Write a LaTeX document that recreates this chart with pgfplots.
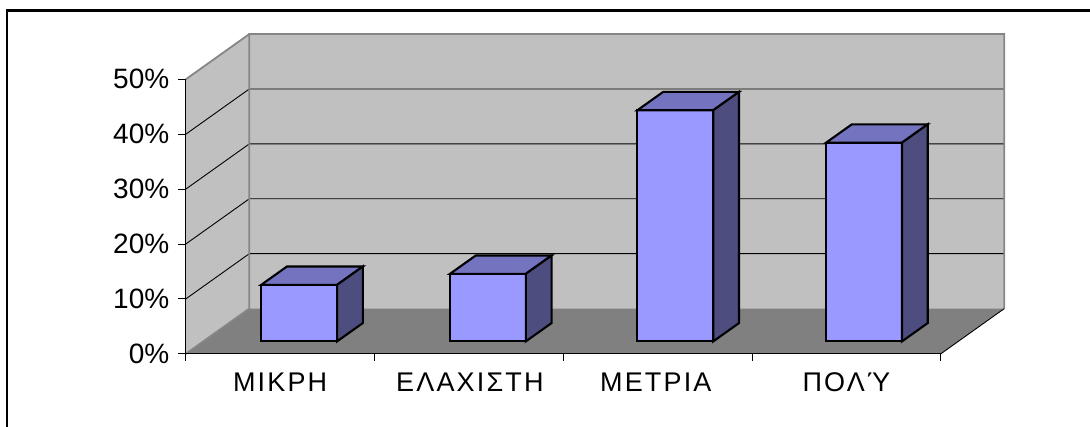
\documentclass[border=0pt]{standalone}
\usepackage{pgfplots}
\pgfplotsset{compat=1.18}
\usepackage{fontspec}
\setmainfont{Liberation Sans}
\newfontfamily\catfont[LetterSpace=8]{Liberation Sans}
\definecolor{wall}{RGB}{192,192,192}
\definecolor{floorc}{RGB}{128,128,128}
\definecolor{edgec}{RGB}{134,134,134}
\definecolor{front}{RGB}{153,153,255}
\definecolor{topc}{RGB}{115,115,191}
\definecolor{sidec}{RGB}{77,77,128}
\pgfplotsset{
  bar3/.style={draw=black,line width=2.1pt,line join=miter},
  thinl/.style={black,line width=0.9pt},
}
\newcommand{\onebar}[3]{%
 \addplot3[bar3,fill=front] coordinates {(#1,0.275,0) (#2,0.275,0) (#2,0.275,#3) (#1,0.275,#3)} -- cycle;
 \addplot3[bar3,fill=topc] coordinates {(#1,0.275,#3) (#2,0.275,#3) (#2,0.68,#3) (#1,0.68,#3)} -- cycle;
 \addplot3[bar3,fill=sidec] coordinates {(#2,0.275,0) (#2,0.68,0) (#2,0.68,#3) (#2,0.275,#3)} -- cycle;
}
\begin{document}
\begin{tikzpicture}[x=1pt,y=1pt]
\useasboundingbox (0,0) rectangle (1090,-427);
\draw[black,line width=2.4pt] (7,-427) -- (7,-10.5) -- (1090,-10.5);
\begin{axis}[
  at={(185.8pt,-353.8pt)}, anchor=origin,
  x={(188.75pt,0pt)}, y={(63.5pt,45.2pt)}, z={(0pt,5.49pt)},
  xmin=0,xmax=4,ymin=0,ymax=1,zmin=0,zmax=50,
  axis lines=left,
  axis line style={draw=none},
  ytick=\empty,
  xtick={0.5,1.505,2.49,3.5},
  xticklabels={ΜΙΚΡΗ,ΕΛΑΧΙΣΤΗ,ΜΕΤΡΙΑ,ΠΟΛΎ},
  x tick label style={font=\catfont\fontsize{27}{27}\selectfont,anchor=center,yshift=-28pt},
  ztick={0,10,20,30,40,50},
  zticklabel={\pgfmathprintnumber{\tick}\%},
  /pgf/number format/assume math mode=true,
  tick style={draw=none},
  major tick length=0pt,
  z tick label style={font=\fontsize{28}{28}\selectfont,anchor=east,xshift=-13pt},
  clip=false,
]
% walls and floor
\addplot3[fill=wall,draw=none] coordinates {(0,0,0) (0,1,0) (0,1,50) (0,0,50)} -- cycle;
\addplot3[fill=wall,draw=none] coordinates {(0,1,0) (4,1,0) (4,1,50) (0,1,50)} -- cycle;
\addplot3[fill=floorc,draw=none] coordinates {(0,0,0) (4,0,0) (4,1,0) (0,1,0)} -- cycle;
% gridlines
\addplot3[thinl] coordinates {(0,0,10) (0,1,10) (4,1,10)};
\addplot3[thinl] coordinates {(0,0,20) (0,1,20) (4,1,20)};
\addplot3[thinl] coordinates {(0,0,30) (0,1,30) (4,1,30)};
\addplot3[thinl] coordinates {(0,0,40) (0,1,40) (4,1,40)};
% edges
\addplot3[edgec,line width=1.8pt] coordinates {(0,0,0) (0,1,0) (0,1,50) (4,1,50) (4,1,0)};
\addplot3[edgec,line width=1.8pt] coordinates {(0,0,50) (0,1,50)};
\addplot3[thinl] coordinates {(4,0,0) (4,1,0)};
% front axis lines and ticks
\addplot3[thinl] coordinates {(0,0,50) (0,0,0) (4,0,0)};
\addplot3[thinl] coordinates {(0,0,0) (0,0,-1.3)};
\addplot3[thinl] coordinates {(1,0,0) (1,0,-1.3)};
\addplot3[thinl] coordinates {(2,0,0) (2,0,-1.3)};
\addplot3[thinl] coordinates {(3,0,0) (3,0,-1.3)};
\addplot3[thinl] coordinates {(4,0,0) (4,0,-1.3)};
\addplot3[thinl] coordinates {(0,0,0) (-0.04,0,0)};
\addplot3[thinl] coordinates {(0,0,10) (-0.04,0,10)};
\addplot3[thinl] coordinates {(0,0,20) (-0.04,0,20)};
\addplot3[thinl] coordinates {(0,0,30) (-0.04,0,30)};
\addplot3[thinl] coordinates {(0,0,40) (-0.04,0,40)};
\addplot3[thinl] coordinates {(0,0,50) (-0.04,0,50)};
% bars
\onebar{0.307}{0.709}{10.3}
\onebar{1.307}{1.709}{12.3}
\onebar{2.300}{2.702}{42.1}
\onebar{3.300}{3.702}{36.2}
\end{axis}
\end{tikzpicture}
\end{document}
